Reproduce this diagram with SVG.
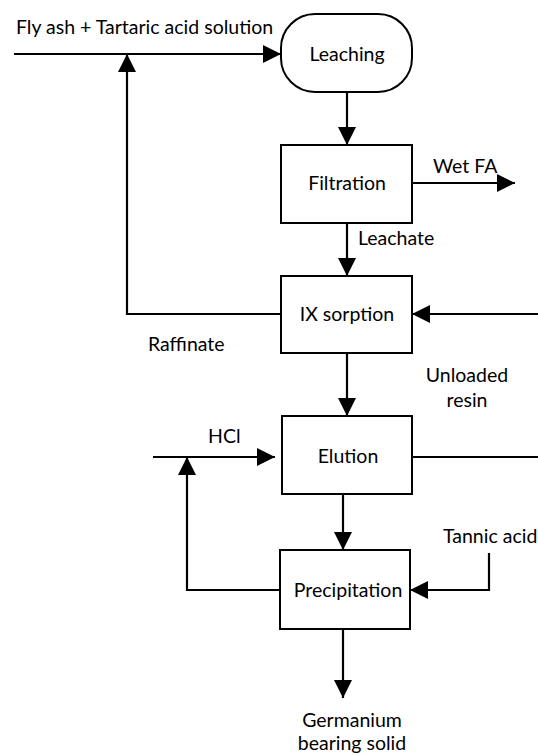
<svg xmlns="http://www.w3.org/2000/svg" width="538" height="756" viewBox="0 0 538 756">
<defs>
<marker id="arr" markerUnits="userSpaceOnUse" markerWidth="18" markerHeight="18" refX="18" refY="9" orient="auto">
<path d="M0,0 L18,9 L0,18 z" fill="#000"/>
</marker>
</defs>
<style>
.box{fill:#fff;stroke:#000;stroke-width:2}
.ln{fill:none;stroke:#000;stroke-width:2.2}
.ar{marker-end:url(#arr)}
text{font-family:Lato,"Liberation Sans",sans-serif;font-size:19.5px;fill:#000}
.c{text-anchor:middle}
</style>
<rect width="538" height="756" fill="#fff"/>
<g id="connectors">
<line class="ln ar" x1="14" y1="54" x2="281" y2="54"/>
<polyline class="ln ar" points="281,314 127,314 127,54"/>
<line class="ln ar" x1="347" y1="92" x2="347" y2="145"/>
<line class="ln ar" x1="412" y1="183" x2="515" y2="183"/>
<line class="ln ar" x1="347" y1="223" x2="347" y2="276"/>
<line class="ln ar" x1="538" y1="314" x2="412" y2="314"/>
<line class="ln ar" x1="347" y1="353" x2="347" y2="416"/>
<line class="ln ar" x1="153" y1="457" x2="275" y2="457"/>
<polyline class="ln ar" points="280,590 187,590 187,457"/>
<line class="ln" x1="412" y1="457" x2="538" y2="457"/>
<line class="ln ar" x1="343" y1="494" x2="343" y2="550"/>
<polyline class="ln ar" points="489,553 489,590 410,590"/>
<line class="ln ar" x1="343" y1="629" x2="343" y2="698"/>
</g>
<g id="leaching">
<rect class="box" x="281" y="14" width="131" height="78" rx="34" ry="34"/>
<text class="c" x="347" y="61">Leaching</text>
</g>
<g id="filtration">
<rect class="box" x="281" y="145" width="131" height="78"/>
<text class="c" x="347" y="190">Filtration</text>
</g>
<g id="ix-sorption">
<rect class="box" x="281" y="276" width="131" height="77"/>
<text class="c" x="347" y="321">IX sorption</text>
</g>
<g id="elution">
<rect class="box" x="282" y="416" width="130" height="78"/>
<text class="c" x="348" y="463">Elution</text>
</g>
<g id="precipitation">
<rect class="box" x="280" y="550" width="130" height="79"/>
<text class="c" x="348" y="597">Precipitation</text>
</g>
<g id="labels">
<text x="16" y="34">Fly ash + Tartaric acid solution</text>
<text x="433" y="173">Wet FA</text>
<text x="358" y="245">Leachate</text>
<text x="148" y="351">Raffinate</text>
<text class="c" x="467" y="382">Unloaded</text>
<text class="c" x="467" y="407">resin</text>
<text x="208" y="443">HCl</text>
<text x="443" y="543">Tannic acid</text>
<text class="c" x="352" y="727">Germanium</text>
<text class="c" x="352" y="750">bearing solid</text>
</g>
</svg>
